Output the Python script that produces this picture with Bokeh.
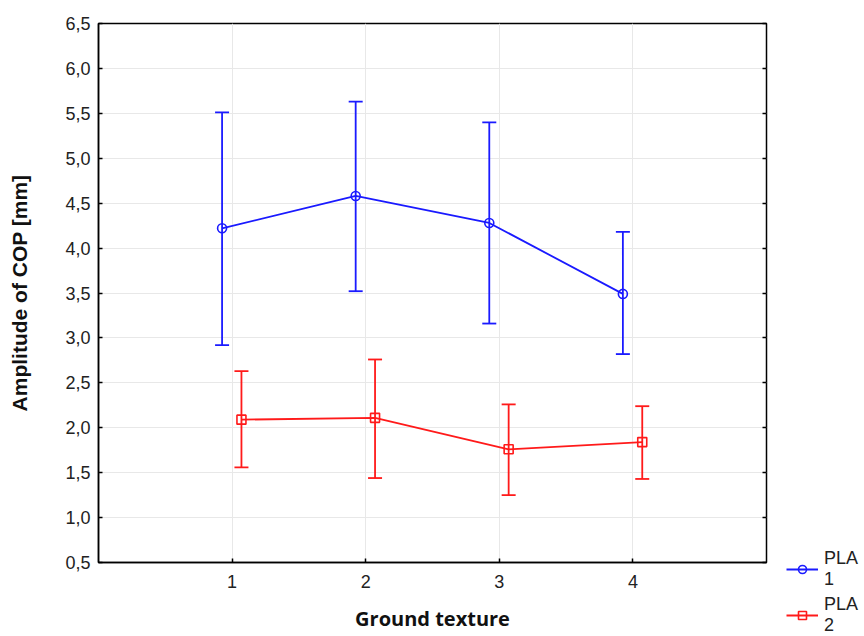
from bokeh.plotting import figure
from bokeh.layouts import row, column
from bokeh.models import (ColumnDataSource, Legend, LegendItem, LinearAxis,
                          FixedTicker, Range1d)
from bokeh.transform import dodge
from bokeh.embed import file_html
from bokeh.resources import INLINE

# ---- data ----
ground_texture = [1, 2, 3, 4]
pla1_mean = [4.22, 4.58, 4.28, 3.49]
pla1_upper = [5.51, 5.63, 5.40, 4.18]
pla1_lower = [2.92, 3.52, 3.16, 2.82]
pla2_mean = [2.09, 2.11, 1.76, 1.84]
pla2_upper = [2.63, 2.76, 2.26, 2.24]
pla2_lower = [1.56, 1.44, 1.25, 1.43]
y_ticks = [0.5, 1.0, 1.5, 2.0, 2.5, 3.0, 3.5, 4.0, 4.5, 5.0, 5.5, 6.0, 6.5]
x_ticks = [1, 2, 3, 4]
series_labels = ["PLA\n1", "PLA\n2"]

BLUE = "#1a1aff"
RED = "#ff1a1a"

p = figure(width=772, height=636, output_backend="svg", toolbar_location=None,
           x_range=Range1d(0, 5), y_range=Range1d(0.5, 6.5),
           min_border_left=98, min_border_right=6, min_border_top=23,
           min_border_bottom=74)
p.background_fill_color = "white"
p.border_fill_color = "white"
p.outline_line_color = "black"
p.outline_line_width = 1.5

p.xaxis.ticker = FixedTicker(ticks=x_ticks)
p.yaxis.ticker = FixedTicker(ticks=y_ticks)
p.yaxis.major_label_overrides = {v: f"{v:.1f}".replace(".", ",") for v in y_ticks}
for ax in (p.xaxis[0], p.yaxis[0]):
    ax.axis_line_color = "black"
    ax.axis_line_width = 1.5
    ax.major_tick_in = 4
    ax.major_tick_out = 0
    ax.major_tick_line_color = "black"
    ax.major_tick_line_width = 1.5
    ax.minor_tick_line_color = None
    ax.major_label_text_font = "Liberation Sans"
    ax.major_label_text_font_size = "18px"
    ax.major_label_text_color = "#222222"
    ax.axis_label_text_font_style = "bold"
    ax.axis_label_text_color = "#111111"

p.yaxis.major_label_standoff = 8
p.xaxis.major_label_standoff = 12
p.xaxis.axis_label = "Ground texture"
p.xaxis.axis_label_text_font = "Open Sans"
p.xaxis.axis_label_text_font_size = "20px"
p.xaxis.axis_label_standoff = 14
p.yaxis.axis_label = "Amplitude of COP [mm]"
p.yaxis.axis_label_text_font = "Liberation Sans"
p.yaxis.axis_label_text_font_size = "21px"
p.yaxis.axis_label_standoff = 31

# right axis with inward ticks only
ra = LinearAxis(ticker=FixedTicker(ticks=y_ticks), major_label_text_color=None,
                major_tick_in=4, major_tick_out=0, axis_line_color=None,
                major_tick_line_width=1.5, minor_tick_line_color=None,
                major_label_text_font_size="0px", major_label_standoff=0)
p.add_layout(ra, "right")

p.xgrid.grid_line_color = "#e8e8e8"
p.ygrid.grid_line_color = "#e8e8e8"
p.xgrid.ticker = FixedTicker(ticks=x_ticks)
p.ygrid.ticker = FixedTicker(ticks=y_ticks)

# legend panel: a separate figure holding only the legend; its ranges are
# set far from the data so that only the legend shows
q = figure(width=92, height=636, output_backend="svg", toolbar_location=None,
           x_range=Range1d(100, 101), y_range=Range1d(100, 101),
           x_axis_location=None, y_axis_location=None,
           min_border_left=0, min_border_right=0, min_border_top=0,
           min_border_bottom=0, outline_line_color=None)
q.grid.visible = False
q.background_fill_color = "white"
q.border_fill_color = "white"

items = []
for mean, up, lo, color, marker, off, lab in [
        (pla1_mean, pla1_upper, pla1_lower, BLUE, "circle", -0.075, series_labels[0]),
        (pla2_mean, pla2_upper, pla2_lower, RED, "square", 0.07, series_labels[1])]:
    src = ColumnDataSource(dict(x=ground_texture, m=mean, u=up, l=lo))
    xd = dodge("x", off)
    p.segment(x0=xd, y0="l", x1=xd, y1="u", source=src,
              line_color=color, line_width=1.8)
    p.scatter(x=xd, y="u", source=src, marker="dash", size=14,
              line_color=color, line_width=1.8)
    p.scatter(x=xd, y="l", source=src, marker="dash", size=14,
              line_color=color, line_width=1.8)
    p.line(x=xd, y="m", source=src, line_color=color, line_width=1.8)
    p.scatter(x=xd, y="m", source=src, marker=marker, size=9,
              fill_color=None, line_color=color, line_width=1.6)
    lg_ln = q.line(x="x", y="m", source=src, line_color=color, line_width=1.8)
    lg_mk = q.scatter(x="x", y="m", source=src, marker=marker, size=9,
                      fill_color=None, line_color=color, line_width=1.6)
    items.append(LegendItem(label=lab, renderers=[lg_ln, lg_mk]))

legend = Legend(items=items, location=(14, 0), orientation="vertical",
                label_text_font="Liberation Sans", label_text_font_size="18px",
                label_text_line_height=1.35,
                label_text_color="#222222", glyph_width=32, glyph_height=20,
                spacing=4, padding=0, border_line_color=None,
                background_fill_alpha=0, label_standoff=6, margin=0)
q.add_layout(legend, "center")

layout = row(p, column(q, spacing=0), spacing=0)
open("out.html", "w").write(file_html(layout, INLINE))
